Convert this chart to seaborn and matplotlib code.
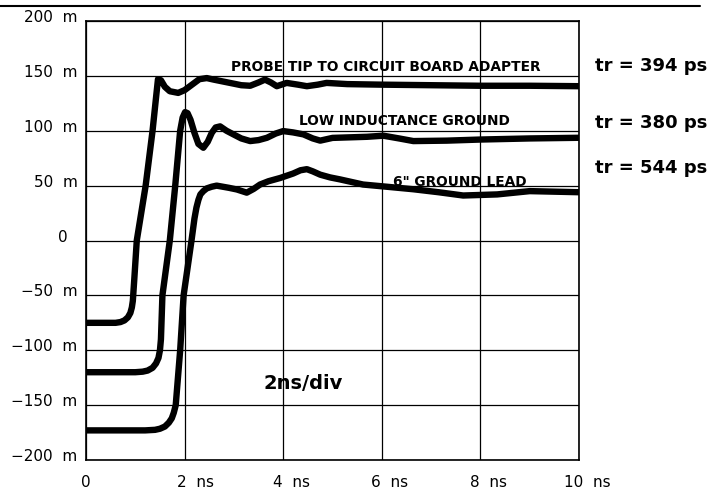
import matplotlib
matplotlib.use("Agg")
import matplotlib.pyplot as plt
import matplotlib.transforms as mtransforms
from matplotlib.lines import Line2D
import pandas as pd
import seaborn as sns

# ── Data (time in ns, amplitude in mV) ────────────────────────────────────────
probe_t = [0, 0.6, 0.7, 0.78, 0.85, 0.9, 0.93, 0.95, 0.98, 1.03, 1.21, 1.35,
           1.42, 1.46, 1.52, 1.6, 1.7, 1.87, 2.0, 2.15, 2.3, 2.45, 2.6, 2.92,
           3.15, 3.33, 3.5, 3.63, 3.75, 3.87, 4.07, 4.3, 4.48, 4.7, 4.88, 5.3,
           6.0, 7.0, 8.0, 9.0, 10.0]
probe_v = [-75, -75, -74.3, -72.8, -70, -66, -61, -55, -35, 0, 50, 100,
           130, 147, 146, 140, 136, 134.5, 137, 142, 147, 148, 146.5, 143.6,
           141.5, 141, 144, 146.6, 144, 140.6, 143.6, 142, 140.6, 142, 143.6, 142.5,
           142, 141.5, 141, 141, 140.6]

lowind_t = [0, 1.0, 1.15, 1.25, 1.35, 1.42, 1.47, 1.50, 1.52, 1.55, 1.70, 1.81,
            1.91, 1.96, 2.01, 2.06, 2.12, 2.2, 2.28, 2.38, 2.47, 2.55, 2.63, 2.72,
            2.85, 2.99, 3.15, 3.33, 3.5, 3.67, 3.85, 4.0, 4.2, 4.41, 4.6, 4.75,
            5.0, 5.35, 5.7, 6.03, 6.35, 6.64, 7.32, 8.0, 9.0, 10.0]
lowind_v = [-120, -120, -119.5, -118.5, -116, -112, -107, -100, -90, -50, 0, 50,
            100, 112, 117, 116, 110, 98, 88, 84.5, 90, 98, 103, 104,
            100, 96.7, 93, 90.6, 91.5, 93.6, 97.5, 99.7, 98.5, 96.7, 93, 91,
            93.5, 94, 94.5, 95.5, 93, 90.6, 91, 92, 93, 93.6]

lead_t = [0, 1.2, 1.4, 1.5, 1.6, 1.68, 1.74, 1.78, 1.82, 1.91, 1.98, 2.14,
          2.2, 2.24, 2.28, 2.32, 2.38, 2.45, 2.55, 2.65, 2.9, 3.06, 3.26, 3.4,
          3.53, 3.7, 3.94, 4.2, 4.35, 4.48, 4.6, 4.75, 4.95, 5.15, 5.62, 6.1,
          6.64, 7.15, 7.65, 8.34, 9.0, 10.0]
lead_v = [-173, -173, -172.5, -171.5, -169.5, -166, -162, -157, -150, -100, -50, 0,
          20, 30, 37, 42, 45, 47.5, 49, 50, 48, 46.5, 43.6, 47,
          51, 54, 57, 61, 64, 65, 63, 60, 57.5, 55.7, 51, 49,
          46.7, 44, 41, 42, 45, 44]

trace_labels = ["PROBE TIP TO CIRCUIT BOARD ADAPTER", "LOW INDUCTANCE GROUND",
                "6\" GROUND LEAD"]
rise_times = ["tr = 394 ps", "tr = 380 ps", "tr = 544 ps"]

x_ticks = [0, 2, 4, 6, 8, 10]
x_labels = ["0", "2  ns", "4  ns", "6  ns", "8  ns", "10  ns"]
y_ticks = [200, 150, 100, 50, 0, -50, -100, -150, -200]
y_labels = ["200  m", "150  m", "100  m", "50  m", "0  ", "\u221250  m",
            "\u2212100  m", "\u2212150  m", "\u2212200  m"]

# ── Figure ────────────────────────────────────────────────────────────────────
sns.set_style("white")
plt.rcParams["font.family"] = ["DejaVu Sans"]
plt.rcParams["text.color"] = "black"
plt.rcParams["xtick.color"] = "black"
plt.rcParams["ytick.color"] = "black"

fig = plt.figure(figsize=(7.22, 4.93), dpi=100, facecolor="white")
ax = fig.add_axes([0.1191, 0.0669, 0.6829, 0.8905])

traces = [(probe_t, probe_v), (lowind_t, lowind_v), (lead_t, lead_v)]
for t, v in traces:
    df = pd.DataFrame({"t": t, "v": v})
    sns.lineplot(data=df, x="t", y="v", ax=ax, color="black", linewidth=4.6,
                 solid_capstyle="round", solid_joinstyle="round", zorder=3)

ax.set_xlim(0, 10)
ax.set_ylim(-200, 200)
ax.set_xlabel("")
ax.set_ylabel("")

ax.set_xticks(x_ticks)
ax.set_xticklabels(x_labels, fontsize=11)
ax.set_yticks(y_ticks)
ax.set_yticklabels(y_labels, fontsize=11)
ax.tick_params(axis="both", length=0)
ax.tick_params(axis="x", pad=11)
ax.tick_params(axis="y", pad=6)

# shift tick labels like the scanned scope print
for i, lab in enumerate(ax.get_xticklabels()):
    if i == 0:
        continue
    shift = 11 if i == 1 else 8
    dx = mtransforms.ScaledTranslation(shift / 100, 0, fig.dpi_scale_trans)
    lab.set_transform(lab.get_transform() + dx)
dy = mtransforms.ScaledTranslation(0, 5 / 100, fig.dpi_scale_trans)
for lab in ax.get_yticklabels():
    lab.set_transform(lab.get_transform() + dy)

ax.grid(True, color="black", linewidth=0.9)
for spine in ax.spines.values():
    spine.set_edgecolor("black")
    spine.set_linewidth(1.2)

# trace names
ax.text(6.07, 158, trace_labels[0], ha="center", va="center", fontsize=9.9,
        fontweight="bold", zorder=4)
ax.text(6.45, 109, trace_labels[1], ha="center", va="center", fontsize=9.9,
        fontweight="bold", zorder=4)
ax.text(7.59, 53.6, trace_labels[2], ha="center", va="center", fontsize=9.9,
        fontweight="bold", zorder=4)

# rise times, right of the graticule
for y, s in zip([158.8, 107.3, 66.3], rise_times):
    ax.text(10.32, y, s, ha="left", va="center", fontsize=13,
            fontweight="bold", clip_on=False)

ax.text(4.4, -130, "2ns/div", ha="center", va="center", fontsize=14,
        fontweight="bold")

# scan border line at the top
fig.add_artist(Line2D([0, 0.97], [0.988, 0.988], color="black", linewidth=1.5))

fig.savefig("out.png", dpi=100, facecolor="white")
